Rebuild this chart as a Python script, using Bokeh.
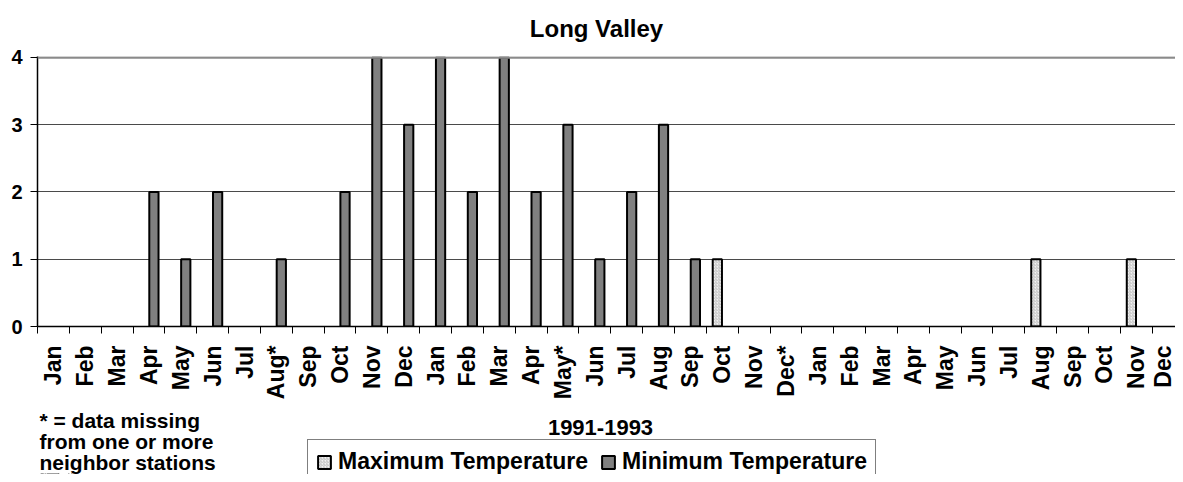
from bokeh.plotting import figure
from bokeh.layouts import column
from bokeh.models import ColumnDataSource, FixedTicker, Legend, LegendItem, Range1d, Span
from bokeh.embed import file_html
from bokeh.resources import INLINE
from bokeh.core.properties import value

months = ["Jan", "Feb", "Mar", "Apr", "May", "Jun", "Jul", "Aug*", "Sep", "Oct", "Nov", "Dec",
          "Jan", "Feb", "Mar", "Apr", "May*", "Jun", "Jul", "Aug", "Sep", "Oct", "Nov", "Dec*",
          "Jan", "Feb", "Mar", "Apr", "May", "Jun", "Jul", "Aug", "Sep", "Oct", "Nov", "Dec"]
min_temp = [0, 0, 0, 2, 1, 2, 0, 1, 0, 2, 4, 3,
            4, 2, 4, 2, 3, 1, 2, 3, 1, 0, 0, 0,
            0, 0, 0, 0, 0, 0, 0, 0, 0, 0, 0, 0]
max_temp = [0, 0, 0, 0, 0, 0, 0, 0, 0, 0, 0, 0,
            0, 0, 0, 0, 0, 0, 0, 0, 0, 1, 0, 0,
            0, 0, 0, 0, 0, 0, 0, 1, 0, 0, 1, 0]
y_ticks = [0, 1, 2, 3, 4]
title_text = "Long Valley"
x_title = "1991-1993"
footnote = ["* = data missing", "from one or more", "neighbor stations"]
series_names = ["Maximum Temperature", "Minimum Temperature"]

FONT = "Liberation Sans"
W = 1175
LEFT = 37
n = len(months)
centers = [i + 0.5 for i in range(n)]
bw = 0.29
off = 0.155

MAX_STYLE = dict(fill_color="#f2f2f2", line_color="black", line_width=2,
                 hatch_pattern="/", hatch_color="#a0a0a0", hatch_scale=3, hatch_weight=0.6)
MIN_STYLE = dict(fill_color="#808080", line_color="black", line_width=2)

max_src = ColumnDataSource(dict(x=[c - off for c, v in zip(centers, max_temp) if v > 0],
                                top=[v for v in max_temp if v > 0]))
min_src = ColumnDataSource(dict(x=[c + off for c, v in zip(centers, min_temp) if v > 0],
                                top=[v for v in min_temp if v > 0]))

# strips: data x = page x - LEFT ; data y = BASE + (bottom_of_strip - page y)
BASE = 100

def strip(h):
    f = figure(width=W, height=h, output_backend="svg", toolbar_location=None,
               title_location=None,
               x_range=Range1d(0, W - LEFT), y_range=Range1d(BASE, BASE + h),
               x_axis_type=None, y_axis_type=None,
               min_border_left=LEFT, min_border_right=0, min_border_top=0, min_border_bottom=0)
    f.outline_line_color = None
    f.xgrid.visible = False
    f.ygrid.visible = False
    return f

# ---- title strip (page y 0..44) ----
H0 = 44
p0 = strip(H0)
p0.text(x=[596 - LEFT], y=[BASE + H0 - 28], text=[title_text], text_font=value(FONT),
        text_font_style="bold", text_font_size="24px", text_align="center",
        text_baseline="alphabetic", text_color="black")

# ---- main chart (page y 44..402) ----
p = figure(width=W, height=358, output_backend="svg", toolbar_location=None,
           title_location=None,
           x_range=Range1d(0, 35.73), y_range=Range1d(0, 4.0148),
           min_border_left=LEFT, min_border_right=0, min_border_top=12, min_border_bottom=75)
p.outline_line_color = None

p.vbar(x="x", top="top", width=bw, bottom=0, source=max_src, **MAX_STYLE)
p.vbar(x="x", top="top", width=bw, bottom=0, source=min_src, **MIN_STYLE)

p.xgrid.visible = False
p.ygrid.ticker = FixedTicker(ticks=y_ticks[1:])
p.ygrid.grid_line_color = "#4a4a4a"
p.ygrid.grid_line_width = 1
p.add_layout(Span(location=y_ticks[-1], dimension="width", line_color="#8a8a8a", line_width=2.5))

xa = p.xaxis[0]
xa.ticker = FixedTicker(ticks=centers, minor_ticks=list(range(n + 1)))
xa.major_label_overrides = {c: m for c, m in zip(centers, months)}
xa.major_tick_line_color = None
xa.major_tick_out = 0
xa.major_tick_in = 0
xa.minor_tick_line_color = "black"
xa.minor_tick_line_width = 1
xa.minor_tick_out = 7
xa.minor_tick_in = 0
xa.axis_line_color = "black"
xa.axis_line_width = 1.5
xa.major_label_orientation = 3.14159265 / 2
xa.major_label_text_font = FONT
xa.major_label_text_font_style = "bold"
xa.major_label_text_font_size = "23px"
xa.major_label_text_color = "black"
xa.major_label_standoff = 12

ya = p.yaxis[0]
ya.ticker = FixedTicker(ticks=y_ticks)
ya.minor_tick_line_color = None
ya.major_tick_out = 7
ya.major_tick_in = 0
ya.major_tick_line_color = "black"
ya.axis_line_color = "black"
ya.axis_line_width = 1.5
ya.major_label_text_font = FONT
ya.major_label_text_font_style = "bold"
ya.major_label_text_font_size = "20px"
ya.major_label_text_color = "black"
ya.major_label_standoff = 8

# ---- bottom strip (page y 402..474) ----
H2 = 72
BOT = 474
p2 = strip(H2)
p2.text(x=[600 - LEFT], y=[BASE + BOT - 427], text=[x_title], text_font=value(FONT),
        text_font_style="bold", text_font_size="22px", text_align="center",
        text_baseline="alphabetic", text_color="black")
p2.text(x=[39 - LEFT] * 3,
        y=[BASE + BOT - Y for Y in (420, 441, 462)], text=footnote,
        text_font=value(FONT), text_font_style="bold", text_font_size="21px",
        text_align="left", text_baseline="alphabetic", text_color="black")

# legend swatches use the same series sources; their bars fall below this strip's view
lg_max = p2.vbar(x="x", top="top", width=bw, bottom=0, source=max_src, **MAX_STYLE)
lg_min = p2.vbar(x="x", top="top", width=bw, bottom=0, source=min_src, **MIN_STYLE)
legend = Legend(items=[LegendItem(label=series_names[0], renderers=[lg_max]),
                       LegendItem(label=series_names[1], renderers=[lg_min])],
                orientation="horizontal", location=(307 - LEFT, -10),
                label_text_font=FONT, label_text_font_style="bold",
                label_text_font_size="23px", label_text_color="black",
                glyph_width=16, glyph_height=16, label_standoff=6, spacing=12,
                padding=8, margin=0, border_line_color="black", border_line_width=1,
                background_fill_color="white", background_fill_alpha=1)
p2.add_layout(legend, "center")

layout = column(p0, p, p2, spacing=0)
open("out.html", "w").write(file_html(layout, INLINE))
